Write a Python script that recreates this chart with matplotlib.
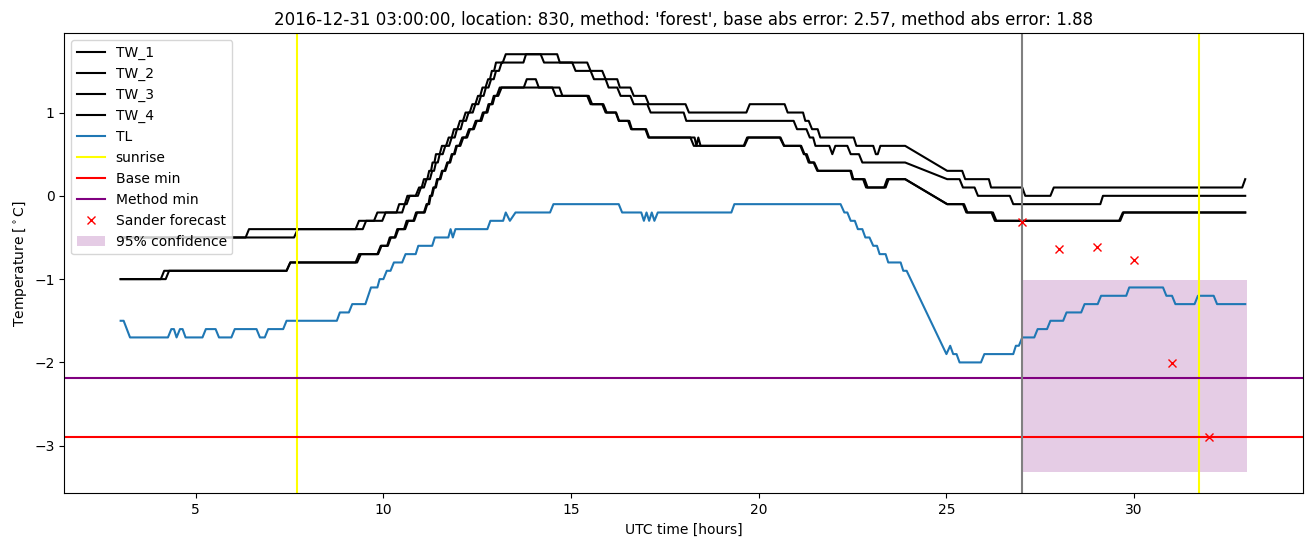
import matplotlib
matplotlib.use("Agg")
import matplotlib.pyplot as plt

# ---------------- data ----------------
title = "2016-12-31 03:00:00, location: 830, method: 'forest', base abs error: 2.57, method abs error: 1.88"

tw1_t = [3.0, 6.33, 6.42, 9.26, 9.35, 9.75, 9.84, 10.35, 10.42, 10.57, 10.64, 10.86, 10.95, 11.02, 11.08,
         11.17, 11.22, 11.27, 11.31, 11.36, 11.4, 11.5, 11.56, 11.67, 11.74, 11.82, 11.88, 11.97, 12.04,
         12.12, 12.19, 12.3, 12.37, 12.45, 12.52, 12.58, 12.64, 12.72, 12.79, 12.84, 12.89, 12.95, 13.0,
         13.73, 13.8, 14.19, 14.28, 15.43, 15.52, 15.83, 15.92, 16.23, 16.3, 16.58, 16.67, 16.98, 17.07,
         18.05, 18.14, 19.67, 19.76, 20.69, 20.77, 21.18, 21.24, 21.33, 21.42, 21.57, 21.64, 22.53, 22.6,
         23.05, 23.12, 23.17, 23.24, 23.9, 25.02, 25.42, 25.5, 26.13, 26.19, 27.02, 27.1, 27.77, 27.86,
         32.88, 32.96]
tw1_v = [-0.5, -0.5, -0.4, -0.4, -0.3, -0.3, -0.2, -0.2, -0.1, -0.1, 0.0, 0.0, 0.1, 0.1, 0.2,
         0.2, 0.3, 0.3, 0.4, 0.4, 0.5, 0.5, 0.6, 0.6, 0.7, 0.7, 0.8, 0.8, 0.9,
         0.9, 1.0, 1.0, 1.1, 1.1, 1.2, 1.2, 1.3, 1.3, 1.4, 1.4, 1.5, 1.5, 1.6,
         1.6, 1.7, 1.7, 1.6, 1.6, 1.5, 1.5, 1.4, 1.4, 1.3, 1.3, 1.2, 1.2, 1.1,
         1.1, 1.0, 1.0, 1.1, 1.1, 1.0, 1.0, 0.9, 0.9, 0.8, 0.8, 0.7, 0.7, 0.6,
         0.6, 0.5, 0.5, 0.6, 0.6, 0.3, 0.3, 0.2, 0.2, 0.1, 0.1, 0.0, 0.0, 0.1,
         0.1, 0.2]

tw2_t = [3.0, 7.62, 7.72, 9.45, 9.54, 9.97, 10.06, 10.5, 10.57, 10.62, 10.7, 10.92, 11.0, 11.08, 11.15,
         11.24, 11.3, 11.35, 11.4, 11.45, 11.5, 11.58, 11.65, 11.75, 11.82, 11.9, 11.96, 12.06, 12.12,
         12.2, 12.27, 12.38, 12.45, 12.53, 12.6, 12.67, 12.73, 12.8, 12.87, 12.94, 13.0, 13.08, 13.15,
         13.18, 13.26, 14.63, 14.7, 15.03, 15.12, 15.52, 15.61, 15.92, 16.0, 16.23, 16.32, 16.58, 16.67,
         17.03, 17.12, 18.0, 18.07, 20.93, 21.02, 21.27, 21.36, 21.45, 21.51, 21.88, 21.96, 22.04, 22.36,
         22.45, 22.67, 22.76, 23.9, 25.02, 25.35, 25.44, 25.75, 25.84, 26.69, 26.78, 29.1, 29.17, 32.96]
tw2_v = [-0.5, -0.5, -0.4, -0.4, -0.3, -0.3, -0.2, -0.2, -0.1, -0.1, 0.0, 0.0, 0.1, 0.1, 0.2,
         0.2, 0.3, 0.3, 0.4, 0.4, 0.5, 0.5, 0.6, 0.6, 0.7, 0.7, 0.8, 0.8, 0.9,
         0.9, 1.0, 1.0, 1.1, 1.1, 1.2, 1.2, 1.3, 1.3, 1.4, 1.4, 1.5, 1.5, 1.6,
         1.6, 1.7, 1.7, 1.6, 1.6, 1.5, 1.5, 1.4, 1.4, 1.3, 1.3, 1.2, 1.2, 1.1,
         1.1, 1.0, 1.0, 0.9, 0.9, 0.8, 0.8, 0.7, 0.7, 0.6, 0.6, 0.5, 0.6, 0.6,
         0.5, 0.5, 0.4, 0.4, 0.2, 0.2, 0.1, 0.1, 0.0, 0.0, -0.1, -0.1, 0.0, 0.0]

tw3_t = [3.0, 4.07, 4.16, 7.42, 7.52, 9.26, 9.35, 9.84, 9.93, 10.1, 10.17, 10.3, 10.37, 10.55, 10.62,
         10.8, 10.87, 11.08, 11.15, 11.2, 11.24, 11.28, 11.33, 11.38, 11.43, 11.5, 11.56, 11.63, 11.7,
         11.76, 11.82, 11.88, 11.94, 12.02, 12.1, 12.2, 12.28, 12.38, 12.46, 12.58, 12.65, 12.74, 12.8,
         12.88, 12.94, 13.02, 13.1, 13.74, 13.82, 14.06, 14.14, 14.5, 14.59, 15.43, 15.52, 15.83, 15.92,
         16.19, 16.27, 16.55, 16.62, 16.98, 17.06, 18.18, 18.27, 19.6, 19.69, 20.56, 20.67, 21.11, 21.2,
         21.25, 21.33, 21.46, 21.56, 22.44, 22.5, 22.78, 22.86, 23.34, 23.42, 23.9, 25.02, 25.44, 25.53,
         26.2, 26.29, 29.63, 29.72, 32.96]
tw3_v = [-1.0, -1.0, -0.9, -0.9, -0.8, -0.8, -0.7, -0.7, -0.6, -0.6, -0.5, -0.5, -0.4, -0.4, -0.3,
         -0.3, -0.2, -0.2, -0.1, -0.1, 0.0, 0.0, 0.1, 0.1, 0.2, 0.2, 0.3, 0.3, 0.4,
         0.4, 0.5, 0.5, 0.6, 0.6, 0.7, 0.7, 0.8, 0.8, 0.9, 0.9, 1.0, 1.0, 1.1,
         1.1, 1.2, 1.2, 1.3, 1.3, 1.4, 1.4, 1.3, 1.3, 1.2, 1.2, 1.1, 1.1, 1.0,
         1.0, 0.9, 0.9, 0.8, 0.8, 0.7, 0.7, 0.6, 0.6, 0.7, 0.7, 0.6, 0.6, 0.5,
         0.5, 0.4, 0.4, 0.3, 0.3, 0.2, 0.2, 0.1, 0.1, 0.2, 0.2, -0.1, -0.1, -0.2,
         -0.2, -0.3, -0.3, -0.2, -0.2]

tw4_t = [3.0, 4.2, 4.29, 7.42, 7.52, 9.3, 9.4, 9.86, 9.95, 10.12, 10.2, 10.32, 10.4, 10.58, 10.66,
         10.82, 10.9, 11.1, 11.17, 11.22, 11.26, 11.3, 11.35, 11.4, 11.45, 11.52, 11.58, 11.65, 11.72,
         11.78, 11.84, 11.9, 11.96, 12.05, 12.13, 12.23, 12.31, 12.41, 12.49, 12.61, 12.68, 12.77, 12.83,
         12.91, 12.97, 13.06, 13.15, 14.69, 14.77, 15.47, 15.56, 15.86, 15.95, 16.2, 16.28, 16.52, 16.6,
         17.0, 17.08, 18.29, 18.34, 18.39, 18.45, 19.62, 19.72, 20.58, 20.68, 21.13, 21.22, 21.28, 21.36,
         21.48, 21.58, 22.46, 22.52, 22.82, 22.9, 23.38, 23.46, 23.9, 25.02, 25.47, 25.56, 26.24, 26.33,
         29.6, 29.7, 32.96]
tw4_v = [-1.0, -1.0, -0.9, -0.9, -0.8, -0.8, -0.7, -0.7, -0.6, -0.6, -0.5, -0.5, -0.4, -0.4, -0.3,
         -0.3, -0.2, -0.2, -0.1, -0.1, 0.0, 0.0, 0.1, 0.1, 0.2, 0.2, 0.3, 0.3, 0.4,
         0.4, 0.5, 0.5, 0.6, 0.6, 0.7, 0.7, 0.8, 0.8, 0.9, 0.9, 1.0, 1.0, 1.1,
         1.1, 1.2, 1.2, 1.3, 1.3, 1.2, 1.2, 1.1, 1.1, 1.0, 1.0, 0.9, 0.9, 0.8,
         0.8, 0.7, 0.7, 0.6, 0.7, 0.6, 0.6, 0.7, 0.7, 0.6, 0.6, 0.5, 0.5, 0.4,
         0.4, 0.3, 0.3, 0.2, 0.2, 0.1, 0.1, 0.2, 0.2, -0.1, -0.1, -0.2, -0.2, -0.3,
         -0.3, -0.2, -0.2]

tl_t = [3.0, 3.08, 3.25, 4.26, 4.35, 4.42, 4.49, 4.58, 4.65, 4.73, 5.18, 5.27, 5.53, 5.62, 5.95, 6.04,
        6.62, 6.71, 6.84, 6.93, 7.33, 7.42, 8.76, 8.84, 9.08, 9.17, 9.52, 9.67, 9.84, 9.9, 10.0, 10.09,
        10.19, 10.28, 10.5, 10.59, 10.86, 10.93, 11.3, 11.37, 11.73, 11.79, 11.85, 11.92, 12.77, 12.85,
        13.19, 13.26, 13.37, 13.52, 14.44, 14.53, 16.27, 16.36, 16.87, 16.94, 17.01, 17.08, 17.15, 17.22,
        17.31, 19.27, 19.35, 22.18, 22.28, 22.36, 22.45, 22.56, 22.64, 22.76, 22.84, 22.95, 23.05, 23.15,
        23.22, 23.38, 23.45, 23.78, 23.85, 23.94, 25.0, 25.1, 25.18, 25.27, 25.35, 25.92, 26.01, 26.78,
        26.85, 26.93, 27.02, 27.34, 27.43, 27.68, 27.77, 28.11, 28.2, 28.59, 28.68, 29.03, 29.12, 29.79,
        29.87, 30.77, 30.86, 31.01, 31.1, 31.61, 31.7, 32.12, 32.21, 32.96]
tl_v = [-1.5, -1.5, -1.7, -1.7, -1.6, -1.6, -1.7, -1.6, -1.6, -1.7, -1.7, -1.6, -1.6, -1.7, -1.7, -1.6,
        -1.6, -1.7, -1.7, -1.6, -1.6, -1.5, -1.5, -1.4, -1.4, -1.3, -1.3, -1.1, -1.1, -1.0, -1.0, -0.9,
        -0.9, -0.8, -0.8, -0.7, -0.7, -0.6, -0.6, -0.5, -0.5, -0.4, -0.5, -0.4, -0.4, -0.3,
        -0.3, -0.2, -0.3, -0.2, -0.2, -0.1, -0.1, -0.2, -0.2, -0.3, -0.2, -0.3, -0.2, -0.3,
        -0.2, -0.2, -0.1, -0.1, -0.2, -0.2, -0.3, -0.3, -0.4, -0.4, -0.5, -0.5, -0.6, -0.6,
        -0.7, -0.7, -0.8, -0.8, -0.9, -0.9, -1.9, -1.8, -1.9, -1.9, -2.0, -2.0, -1.9, -1.9,
        -1.8, -1.8, -1.7, -1.7, -1.6, -1.6, -1.5, -1.5, -1.4, -1.4, -1.3, -1.3, -1.2, -1.2,
        -1.1, -1.1, -1.2, -1.2, -1.3, -1.3, -1.2, -1.2, -1.3, -1.3]

sunrise_hours = [7.69, 31.72]
base_min = -2.89
method_min = -2.19
forecast_time = 27.0
sander_t = [27, 28, 29, 30, 31, 32]
sander_v = [-0.31, -0.64, -0.61, -0.77, -2.01, -2.89]
conf_t = [27.0, 33.0]
conf_low = [-3.32, -3.32]
conf_high = [-1.01, -1.01]

# ---------------- plot ----------------
fig = plt.figure(figsize=(13.13, 5.47), dpi=100)
ax = fig.add_axes([0.049, 0.0982, 0.9434, 0.8409])

for t, v, lab in [(tw1_t, tw1_v, "TW_1"), (tw2_t, tw2_v, "TW_2"),
                  (tw3_t, tw3_v, "TW_3"), (tw4_t, tw4_v, "TW_4")]:
    ax.plot(t, v, color="black", label=lab)
ax.plot(tl_t, tl_v, color="C0", label="TL")
ax.axvline(sunrise_hours[0], color="yellow", label="sunrise")
ax.axvline(sunrise_hours[1], color="yellow")
ax.axhline(base_min, color="red", label="Base min")
ax.axhline(method_min, color="purple", label="Method min")
ax.axvline(forecast_time, color="gray")
ax.plot(sander_t, sander_v, "rx", label="Sander forecast")
ax.fill_between(conf_t, conf_low, conf_high, color="purple", alpha=0.2,
                linewidth=0, label="95% confidence")

ax.set_title(title)
ax.set_xlabel("UTC time [hours]")
ax.set_ylabel(r"Temperature [$^\circ$C]")
ax.legend(loc="upper left")

fig.savefig("out.png", dpi=100)
